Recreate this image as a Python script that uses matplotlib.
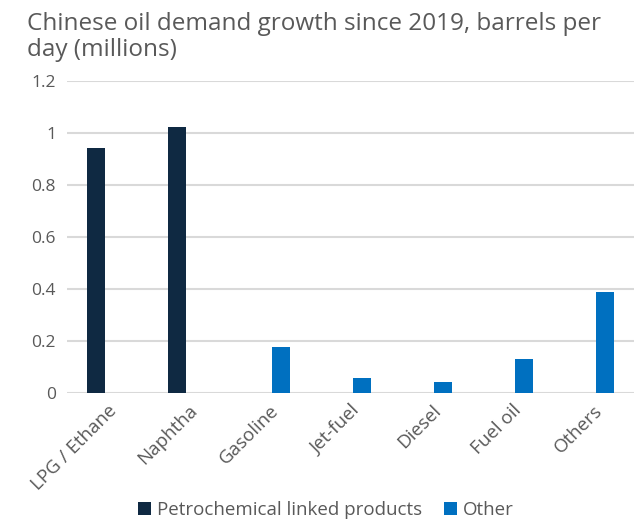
import matplotlib.pyplot as plt
import numpy as np

categories = ['LPG / Ethane', 'Naphtha', 'Gasoline', 'Jet-fuel', 'Diesel', 'Fuel oil', 'Others']
petrochem = [0.943, 1.024, 0, 0, 0, 0, 0]
other = [0, 0, 0.178, 0.057, 0.042, 0.130, 0.390]
yticks = [0, 0.2, 0.4, 0.6, 0.8, 1, 1.2]
ytick_labels = ['0', '0.2', '0.4', '0.6', '0.8', '1', '1.2']

plt.rcParams['font.family'] = ['Open Sans', 'DejaVu Sans']
grey = '#595959'
dark = '#0F2942'
blue = '#0070C0'

fig = plt.figure(figsize=(6.39, 5.23), dpi=100)
ax = fig.add_axes([0.105, 0.2486, 0.887, 0.5966])

x = np.arange(len(categories))
w = 0.22
off = 0.142
ax.bar(x - off, petrochem, w, color=dark, label='Petrochemical linked products', zorder=3)
ax.bar(x + off, other, w, color=blue, label='Other', zorder=3)

ax.set_xlim(-0.5, len(categories) - 0.5)
ax.set_ylim(0, 1.2)
ax.set_yticks(yticks)
ax.set_yticklabels(ytick_labels, fontsize=12.5, color=grey)
ax.set_xticks(x)
ax.set_xticklabels(categories, rotation=45, ha='right', rotation_mode='anchor',
                   fontsize=13.5, color=grey)
ax.tick_params(length=0, pad=8)
ax.tick_params(axis='x', pad=6)
ax.grid(axis='y', color='#D9D9D9', linewidth=1.5, zorder=0)
ax.set_axisbelow(True)
for s in ax.spines.values():
    s.set_visible(False)

fig.text(0.042, 0.978, 'Chinese oil demand growth since 2019, barrels per\nday (millions)',
         fontsize=17.5, color=grey, ha='left', va='top', linespacing=1.15)

fig.legend(loc='lower center', bbox_to_anchor=(0.51, -0.025), ncol=2, frameon=False,
           fontsize=13.5, labelcolor=grey, handlelength=0.7, handleheight=0.7,
           handletextpad=0.3, columnspacing=1.2)

fig.savefig('out.png', dpi=100)
